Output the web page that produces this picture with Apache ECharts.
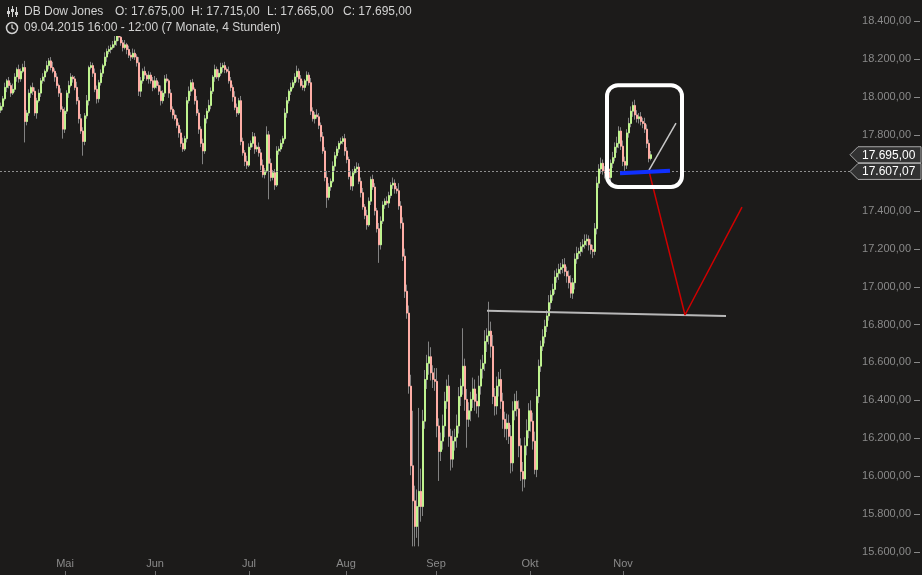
<!DOCTYPE html>
<html>
<head>
<meta charset="utf-8">
<script src="https://cdn.jsdelivr.net/npm/echarts@6/dist/echarts.min.js"></script>
<style>
html, body { margin: 0; padding: 0; background: #1c1b1a; }
#chart { width: 922px; height: 575px; }
</style>
</head>
<body>
<div id="chart"></div>
<script>
// 4h-Kerzen, Schlusskurse (Eröffnung = Schluss der Vorkerze)
const firstOpen = 17930;
const closes = [
  17950,17990,18050,18085,18060,18020,18040,18105,18145,18095,
  18135,18155,17870,17915,18020,18050,18030,17915,17980,18020,
  18085,18105,18135,18165,18190,18155,18135,18105,18060,18020,
  17935,17830,17925,18020,18060,18105,18095,18050,17980,17885,
  17820,17765,17900,17980,18155,18165,18125,18040,17990,18075,
  18125,18165,18210,18240,18250,18260,18275,18295,18325,18315,
  18285,18260,18275,18250,18220,18210,18230,18210,18180,18030,
  18085,18135,18115,18095,18115,18085,18050,18085,18060,18030,
  17980,18020,18095,18085,18020,17935,17905,17885,17850,17810,
  17755,17725,17780,17980,18030,18075,18040,17980,17915,17830,
  17755,17715,17885,17925,17955,18030,18105,18145,18105,18125,
  18155,18165,18145,18135,18085,18050,18000,17945,17915,17980,
  17765,17705,17660,17640,17735,17755,17790,17725,17735,17705,
  17640,17590,17610,17800,17650,17575,17600,17535,17715,17725,
  17755,17780,17915,17980,18030,18050,18075,18105,18135,18095,
  18060,18050,18085,18115,18075,17925,17885,17905,17895,17850,
  17790,17715,17575,17470,17525,17555,17635,17690,17725,17755,
  17765,17780,17715,17670,17580,17530,17600,17620,17630,17555,
  17495,17420,17375,17325,17450,17565,17525,17400,17305,17220,
  17345,17430,17450,17440,17480,17535,17545,17515,17505,17425,
  17335,17160,16975,16860,16475,16055,15870,15735,15840,15920,
  15840,16290,16510,16595,16630,16545,16510,16500,16265,16130,
  16185,16265,16395,16475,16210,16090,16185,16205,16265,16420,
  16475,16580,16405,16300,16345,16405,16460,16395,16370,16475,
  16565,16595,16710,16740,16765,16685,16420,16370,16475,16510,
  16395,16300,16250,16280,16210,16070,16345,16395,16355,16160,
  16025,15985,16160,16240,16345,16290,16185,16035,16420,16580,
  16685,16735,16790,16845,16915,16955,16985,17050,17070,17090,
  17100,17115,17080,17055,17020,16965,17020,17145,17175,17185,
  17210,17220,17240,17250,17220,17195,17185,17305,17545,17620,
  17650,17610,17600,17620,17575,17650,17680,17735,17755,17820,
  17740,17660,17640,17810,17860,17925,17955,17905,17885,17895,
  17870,17860,17830,17755,17675,17695
];
// Dochtlängen in Punkten über / unter dem Kerzenkörper
const wickUp = [
  20,15,25,10,20,15,30,20,10,25,15,20,35,15,20,10,25,20,15,20,
  15,20,10,25,15,20,30,15,20,10,25,15,20,15,25,20,10,15,30,20,
  25,20,15,30,10,20,15,25,20,15,20,10,25,15,20,15,20,30,15,25,
  20,15,25,10,20,15,25,20,15,30,20,15,25,10,20,15,20,25,15,20,
  30,15,20,25,10,20,15,25,20,15,20,30,15,20,25,15,20,10,25,20,
  15,25,20,15,30,20,10,25,15,20,25,15,20,10,25,20,15,30,20,15,
  25,20,15,30,20,15,25,20,10,25,20,30,15,45,20,25,15,20,25,15,
  20,15,25,20,10,25,15,20,30,15,20,25,10,20,15,25,20,15,30,20,
  15,25,20,35,20,15,25,20,15,13,20,13,25,20,15,30,20,15,25,20,
  20,25,15,30,20,15,25,20,15,30,25,20,15,25,20,15,30,20,15,40,
  25,30,40,35,40,60,290,80,90,440,120,60,50,45,80,50,40,60,70,40,
  45,60,50,35,60,40,55,45,60,50,40,200,40,55,45,40,60,50,40,55,
  50,45,60,40,155,50,60,45,50,40,55,45,40,50,45,60,50,40,55,45,
  40,50,45,60,40,55,45,50,40,35,30,40,35,30,40,25,30,35,25,30,
  25,30,35,25,30,40,25,30,35,20,25,30,35,25,20,30,25,30,35,25,
  30,20,25,30,25,20,30,25,35,25,20,30,25,20,30,25,20,30,25,20,
  25,20,30,25,20,20
];
const wickDown = [
  15,20,10,25,15,20,10,15,25,20,15,10,110,20,15,25,20,15,30,10,
  20,15,25,10,20,15,10,25,15,20,15,50,20,15,25,10,20,15,20,25,
  15,75,20,15,25,10,20,15,25,20,15,20,10,25,15,20,10,15,25,20,
  15,20,10,25,15,20,10,15,20,25,30,15,20,10,25,15,20,10,15,20,
  25,15,20,10,25,15,20,10,15,25,20,15,10,20,15,25,10,20,15,25,
  20,70,15,25,10,20,15,25,10,20,15,25,20,10,15,20,25,15,20,10,
  20,15,25,20,10,15,20,25,15,20,25,15,20,10,190,20,15,25,10,20,
  15,20,10,25,15,20,10,15,25,20,10,15,20,25,15,20,15,25,10,20,
  25,15,20,55,15,20,10,25,15,20,10,15,25,20,15,20,25,10,20,15,
  25,15,20,25,10,20,15,25,20,95,25,15,20,10,25,15,20,25,15,20,
  30,25,35,30,40,50,240,105,60,210,80,50,40,50,60,40,45,50,60,155,
  50,45,60,40,55,60,45,50,55,40,50,45,60,150,40,55,45,50,40,60,
  45,50,40,55,45,60,40,50,45,55,40,50,45,60,40,55,45,50,40,60,
  50,65,45,50,40,55,45,25,40,35,30,25,35,30,25,35,30,25,30,35,
  25,30,25,35,30,25,30,35,25,30,25,30,20,25,30,25,35,20,30,25,
  25,20,30,25,20,30,25,20,30,25,20,25,30,20,25,20,30,25,20,25,
  20,25,20,25,20,10
];

// Monatsanfänge (Kerzenindex) und Achsenbeschriftung
const monthTicks = [32, 77, 124, 172.5, 217.5, 264.5, 311];
const monthLabels = ['Mai', 'Jun', 'Jul', 'Aug', 'Sep', 'Okt', 'Nov'];
const priceTicks = [15600, 15800, 16000, 16200, 16400, 16600, 16800, 17000,
                    17200, 17400, 17600, 17800, 18000, 18200, 18400];

const lastPrice = 17695;
const refLevel = 17607.07;

// Zeichnungen [Kerzenindex, Kurs]
const refLineEnd = 424.5;
const supportLine = [[243, 16873], [362.5, 16845]];
const blueLine = [[309.5, 17597], [334.5, 17611]];
const whiteLine = [[324, 17614], [337.5, 17862]];
const redPath = [[324, 17609], [342, 16850], [370.5, 17419]];
const boxCorners = [[303, 18062], [340.5, 17525]];

const BG = '#1c1b1a';
const FONT = '"Liberation Sans", Arial, sans-serif';
const UP = '#bff38f';
const DOWN = '#ffaea6';
const WICK = '#828282';

function fmt(v) {
  const s = v.toFixed(2).split('.');
  return s[0].replace(/\B(?=(\d{3})+(?!\d))/g, '.') + ',' + s[1];
}

const candles = closes.map((c, i) => {
  const o = i === 0 ? firstOpen : closes[i - 1];
  return [i, o, c, Math.min(o, c) - wickDown[i], Math.max(o, c) + wickUp[i]];
});
const bodies = candles.map(d => [d[0], d[1], d[2], Math.min(d[1], d[2]), Math.max(d[1], d[2])]);

const chart = echarts.init(document.getElementById('chart'));

chart.setOption({
  backgroundColor: BG,
  animation: false,
  textStyle: { fontFamily: FONT },
  grid: { left: 0, right: 2, top: 0, bottom: 0 },
  xAxis: {
    type: 'value',
    min: -0.5,
    max: 459.5,
    axisLine: { show: false },
    splitLine: { show: false },
    axisTick: {
      show: true, inside: true, length: 4,
      customValues: monthTicks,
      lineStyle: { color: '#6f6f6f' }
    },
    axisLabel: {
      inside: true, margin: 6,
      color: '#8a8a8a', fontSize: 11, fontFamily: FONT,
      customValues: monthTicks,
      formatter: v => monthLabels[monthTicks.indexOf(v)]
    }
  },
  yAxis: {
    type: 'value',
    position: 'right',
    min: 15479,
    max: 18511,
    axisLine: { show: false },
    splitLine: { show: false },
    axisTick: { show: false },
    axisLabel: {
      inside: true, margin: 9,
      color: '#8a8a8a', fontSize: 11, fontFamily: FONT,
      customValues: priceTicks,
      formatter: fmt
    }
  },
  series: [
    {
      type: 'candlestick',
      data: candles,
      encode: { x: 0, y: [1, 2, 3, 4] },
      barWidth: 0.5,
      silent: true,
      itemStyle: {
        color: WICK, color0: WICK,
        borderColor: WICK, borderColor0: WICK,
        borderWidth: 1
      },
      markLine: {
        silent: true,
        symbol: 'none',
        label: { show: false },
        lineStyle: { color: '#8e8e8e', type: [2, 2], width: 1 },
        data: [[{ coord: [-0.5, refLevel] }, { coord: [refLineEnd, refLevel] }]]
      }
    },
    {
      type: 'candlestick',
      data: bodies,
      encode: { x: 0, y: [1, 2, 3, 4] },
      barWidth: 1.4,
      silent: true,
      itemStyle: {
        color: UP, color0: DOWN,
        borderColor: UP, borderColor0: DOWN,
        borderWidth: 1
      }
    },
    {
      type: 'line', data: supportLine, symbol: 'none', silent: true, z: 10,
      lineStyle: { color: '#b8b8b8', width: 2 }
    },
    {
      type: 'line', data: redPath, symbol: 'none', silent: true, z: 10,
      lineStyle: { color: '#d00000', width: 1.5 }
    },
    {
      type: 'line', data: whiteLine, symbol: 'none', silent: true, z: 10,
      lineStyle: { color: '#c8c8c8', width: 1.5 }
    },
    {
      type: 'line', data: blueLine, symbol: 'none', silent: true, z: 20,
      lineStyle: { color: '#1030ff', width: 4 }
    }
  ]
});

// Rahmen, Kursmarken, Achsenstriche und Kopfzeile
const toPx = p => chart.convertToPixel({ gridIndex: 0 }, p);
const b1 = toPx(boxCorners[0]);
const b2 = toPx(boxCorners[1]);
const yLast = toPx([0, lastPrice])[1];
const yRef = toPx([0, refLevel])[1];

function priceTag(cy, value) {
  return {
    type: 'group',
    z: 100,
    children: [
      {
        type: 'polygon', z: 100,
        shape: { points: [[850, cy], [858, cy - 8], [921, cy - 8], [921, cy + 8], [858, cy + 8]] },
        style: { fill: '#323232', stroke: '#a8a8a8', lineWidth: 1 }
      },
      {
        type: 'text', z: 101,
        style: { text: fmt(value), x: 862, y: cy + 0.5, fill: '#ffffff', font: '12px ' + FONT, align: 'left', verticalAlign: 'middle' }
      }
    ]
  };
}

const headerText = (txt, x, y) => ({
  type: 'text', z: 101,
  style: { text: txt, x: x, y: y, fill: '#d2d2d2', font: '12px ' + FONT, verticalAlign: 'middle' }
});

const yTicks = priceTicks.map(v => {
  const y = Math.round(toPx([0, v])[1]) + 0.5;
  return { type: 'line', z: 50, shape: { x1: 914, y1: y, x2: 920, y2: y }, style: { stroke: '#8a8a8a', lineWidth: 1 } };
});

chart.setOption({
  graphic: [
    ...yTicks,
    {
      type: 'rect', z: 90,
      shape: { x: b1[0], y: b1[1], width: b2[0] - b1[0], height: b2[1] - b1[1], r: 11 },
      style: { fill: 'none', stroke: '#ffffff', lineWidth: 4 }
    },
    priceTag(yLast, lastPrice),
    priceTag(yRef, refLevel),
    { type: 'rect', z: 100, shape: { x: 0, y: 3, width: 412, height: 17 }, style: { fill: BG } },
    { type: 'rect', z: 100, shape: { x: 0, y: 20, width: 288, height: 16 }, style: { fill: BG } },
    // Symbol Kerzen
    { type: 'line', z: 101, shape: { x1: 8.5, y1: 7, x2: 8.5, y2: 17 }, style: { stroke: '#d2d2d2', lineWidth: 1 } },
    { type: 'line', z: 101, shape: { x1: 12.5, y1: 6, x2: 12.5, y2: 17 }, style: { stroke: '#d2d2d2', lineWidth: 1 } },
    { type: 'line', z: 101, shape: { x1: 16.5, y1: 7, x2: 16.5, y2: 17 }, style: { stroke: '#d2d2d2', lineWidth: 1 } },
    { type: 'rect', z: 101, shape: { x: 7, y: 11, width: 3, height: 3 }, style: { fill: '#d2d2d2' } },
    { type: 'rect', z: 101, shape: { x: 11, y: 9, width: 3, height: 3 }, style: { fill: '#d2d2d2' } },
    { type: 'rect', z: 101, shape: { x: 15, y: 12, width: 3, height: 3 }, style: { fill: '#d2d2d2' } },
    // Uhr
    { type: 'circle', z: 101, shape: { cx: 12, cy: 28, r: 5.5 }, style: { fill: 'none', stroke: '#d2d2d2', lineWidth: 1.5 } },
    { type: 'polyline', z: 101, shape: { points: [[12, 24.5], [12, 28], [14.5, 29.5]] }, style: { fill: 'none', stroke: '#d2d2d2', lineWidth: 1.3 } },
    headerText('DB Dow Jones', 24, 12),
    headerText('O: 17.675,00', 115, 12),
    headerText('H: 17.715,00', 191, 12),
    headerText('L: 17.665,00', 267, 12),
    headerText('C: 17.695,00', 343, 12),
    headerText('09.04.2015 16:00 - 12:00 (7 Monate, 4 Stunden)', 24, 28)
  ]
});
</script>
</body>
</html>
